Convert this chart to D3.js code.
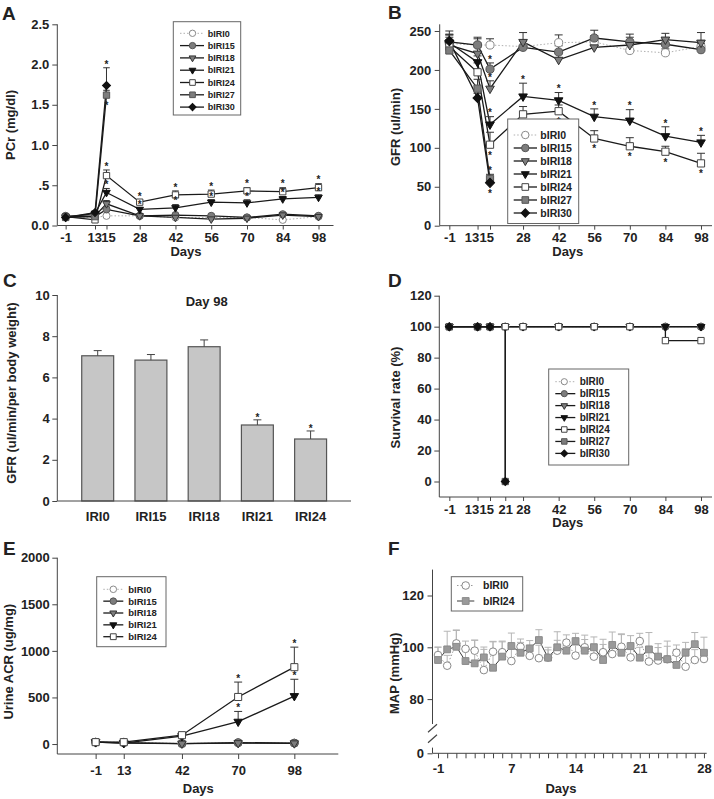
<!DOCTYPE html>
<html><head><meta charset="utf-8">
<script src="https://cdn.jsdelivr.net/npm/d3@7"></script>
<style>
body{margin:0;background:#fff;}
svg text{font-family:"Liberation Sans",Arial,Helvetica,sans-serif;font-weight:bold;fill:#222;}
</style></head><body>
<svg id="fig" width="714" height="799" xmlns="http://www.w3.org/2000/svg"></svg>
<script>
// ================= DATA =================
const groups = ["bIRI0","bIRI15","bIRI18","bIRI21","bIRI24","bIRI27","bIRI30"];

// Panel A: plasma creatinine (mg/dl)
const daysA = [-1,13,15,28,42,56,70,84,98];
const pcrTicks = [0,0.5,1,1.5,2,2.5];
const pcrTickLabels = ["0.0",".5","1.0","1.5","2.0","2.5"];
const pcr_bIRI0  = [0.11,0.10,0.12,0.12,0.10,0.10,0.10,0.07,0.11];
const pcr_bIRI15 = [0.12,0.11,0.20,0.12,0.13,0.12,0.10,0.14,0.12];
const pcr_bIRI18 = [0.11,0.12,0.27,0.12,0.10,0.08,0.09,0.13,0.11];
const pcr_bIRI21 = [0.10,0.15,0.41,0.20,0.22,0.29,0.28,0.33,0.35];
const pcr_bIRI24 = [0.11,0.07,0.62,0.29,0.38,0.39,0.43,0.42,0.47];
const pcr_bIRI27 = [0.10,0.11,1.62];
const pcr_bIRI30 = [0.10,0.16,1.74];
const pcrErr_bIRI0  = [0.01,0.01,0.02,0.01,0.01,0.01,0.01,0.01,0.01];
const pcrErr_bIRI15 = [0.01,0.01,0.03,0.01,0.02,0.02,0.01,0.02,0.01];
const pcrErr_bIRI18 = [0.01,0.01,0.04,0.01,0.01,0.01,0.01,0.02,0.01];
const pcrErr_bIRI21 = [0.01,0.02,0.05,0.02,0.04,0.03,0.04,0.03,0.03];
const pcrErr_bIRI24 = [0.01,0.01,0.07,0.03,0.05,0.05,0.04,0.05,0.05];
const pcrErr_bIRI27 = [0.01,0.02,0.06];
const pcrErr_bIRI30 = [0.01,0.02,0.22];

// Panel B: GFR (ul/min)
const gfrTicks = [0,50,100,150,200,250];
const gfr_bIRI0  = [234,232,232,230,235,236,225,222,230];
const gfr_bIRI15 = [236,232,201,229,223,241,236,233,226];
const gfr_bIRI18 = [232,221,176,236,213,229,232,239,235];
const gfr_bIRI21 = [235,210,130,166,161,140,135,115,107];
const gfr_bIRI24 = [230,197,104,143,147,112,102,95,80];
const gfr_bIRI27 = [225,176,60];
const gfr_bIRI30 = [237,164,55];
const gfrErr_bIRI0  = [8,8,8,8,10,8,6,5,8];
const gfrErr_bIRI15 = [10,10,8,8,8,10,10,8,8];
const gfrErr_bIRI18 = [18,10,10,12,8,8,10,8,13];
const gfrErr_bIRI21 = [10,8,10,17,10,10,14,12,9];
const gfrErr_bIRI24 = [8,12,16,10,8,10,11,7,13];
const gfrErr_bIRI27 = [8,12,6];
const gfrErr_bIRI30 = [8,6,4];

// Panel C: GFR per body weight at day 98
const catsC = ["IRI0","IRI15","IRI18","IRI21","IRI24"];
const gfrBW = [7.05,6.84,7.49,3.69,3.01];
const gfrBWErr = [0.25,0.27,0.33,0.25,0.39];
const gfrBWStar = [false,false,false,true,true];
const ticksC = [0,2,4,6,8,10];

// Panel D: survival rate (%)
const daysD = [-1,13,15,21,28,42,56,70,84,98];
const survTicks = [0,20,40,60,80,100,120];
const surv_bIRI0  = [100,100,100,100,100,100,100,100,100,100];
const surv_bIRI15 = [100,100,100,100,100,100,100,100,100,100];
const surv_bIRI18 = [100,100,100,100,100,100,100,100,100,100];
const surv_bIRI21 = [100,100,100,100,100,100,100,100,100,100];
const surv_bIRI24 = [100,100,100,100,100,100,100,100,91,91];
const daysDshort = [-1,13,15,21];
const surv_bIRI27 = [100,100,100,0];
const surv_bIRI30 = [100,100,100,0];

// Panel E: urine ACR (ug/mg)
const daysE = [-1,13,42,70,98];
const acrTicks = [0,500,1000,1500,2000];
const acr_bIRI0  = [20,20,5,15,10];
const acr_bIRI15 = [20,15,5,15,10];
const acr_bIRI18 = [20,10,5,10,8];
const acr_bIRI21 = [20,10,85,240,515];
const acr_bIRI24 = [20,20,95,505,825];
const acrErr_bIRI21 = [5,5,10,110,180];
const acrErr_bIRI24 = [5,5,10,160,215];

// Panel F: MAP (mmHg), daily from day -1 to 28
const daysF = d3.range(-1,29);
const mapTicks = [0,80,100,120];
const mapXLabels = [-1,7,14,21,28];
const map_bIRI0  = [97,92.9,101.5,99.4,98.7,91.2,98.3,98.1,94.7,100.2,96.7,95.8,96,98.7,101.8,96.8,100,96.4,98.1,97.4,100.2,96.1,102.4,94.5,94.9,95.4,97.9,92.5,95.1,95.5];
const map_bIRI24 = [95.1,99.2,100.2,94.7,93.8,96.1,92.1,96.4,100.5,97.9,99.6,102.8,96,100,98.7,102.4,98.7,100,95.1,100.9,97.9,100.5,96,99.2,96.4,95.4,93.2,97.9,101.2,97.9];
const mapErr_bIRI0  = [3,4,5,3,4,8,4,4,6,3,3,5,3,4,3,4,3,5,3,4,5,3,3,5,5,7,3,7,4,3];
const mapErr_bIRI24 = [5,7,6.5,4,9,4,10,6,5,4,3,4,4,6,4,3,6,4,8,5,7,4,4,6.5,5,5,6,4,4.5,6];

// ================= STYLE =================
const FONT = '"Liberation Sans", Arial, Helvetica, sans-serif';
const INK = "#222", AXIS = "#444";
const STY = {
  bIRI0:  {shape:"circle",  fill:"#fff",    stroke:"#8a8a8a", line:"#b0b0b0", dash:"1.5,2", lw:1},
  bIRI15: {shape:"circle",  fill:"#7d7d7d", stroke:"#555",    line:"#1a1a1a", lw:1.3},
  bIRI18: {shape:"tri",     fill:"#7d7d7d", stroke:"#333",    line:"#1a1a1a", lw:1.3},
  bIRI21: {shape:"tri",     fill:"#111",    stroke:"#111",    line:"#1a1a1a", lw:1.3},
  bIRI24: {shape:"square",  fill:"#fff",    stroke:"#444",    line:"#1a1a1a", lw:1.3},
  bIRI27: {shape:"square",  fill:"#7d7d7d", stroke:"#555",    line:"#1a1a1a", lw:1.3},
  bIRI30: {shape:"diamond", fill:"#111",    stroke:"#111",    line:"#1a1a1a", lw:1.3}
};
const svg = d3.select("#fig");

function symPath(shape, size){
  const t = {circle:d3.symbolCircle, square:d3.symbolSquare, diamond:d3.symbolSquare, tri:d3.symbolTriangle}[shape];
  return d3.symbol(t, size)();
}
function rot(shape){ return shape==="tri" ? " rotate(180)" : shape==="diamond" ? " rotate(45)" : ""; }
function marker(g, st, x, y, size, sw){
  const sz = st.shape==="diamond" ? size*0.8 : st.shape==="tri" ? size*0.62 : size;
  g.append("path").attr("d", symPath(st.shape, sz))
   .attr("transform", `translate(${x},${y})${rot(st.shape)}`)
   .attr("fill", st.fill).attr("stroke", st.stroke).attr("stroke-width", sw||1);
}

function axes(g, x, y, fr, o){
  const gx = g.append("g").attr("transform",`translate(0,${fr.b})`)
    .call(d3.axisBottom(x).tickValues(o.xt).tickSize(o.xts).tickPadding(o.xp).tickFormat(o.xf||(d=>d)));
  const gy = g.append("g").attr("transform",`translate(${fr.l},0)`)
    .call(d3.axisLeft(y).tickValues(o.yt).tickSize(o.yts).tickPadding(o.yp).tickFormat(o.yf||(d=>d)));
  [gx,gy].forEach(a=>{
    a.select(".domain").remove();
    a.attr("font-family",FONT).attr("font-size",13).attr("font-weight","bold");
    a.selectAll("line").attr("stroke",AXIS);
    a.selectAll("text").attr("fill",INK);
  });
  if(o.shift) gx.selectAll(".tick text").attr("dx", d => o.shift[d] || 0);
  g.append("line").attr("x1",fr.l).attr("x2",fr.r).attr("y1",fr.b).attr("y2",fr.b).attr("stroke",AXIS);
  if(!o.noY) g.append("line").attr("x1",fr.l).attr("x2",fr.l).attr("y1",fr.t).attr("y2",fr.b).attr("stroke",AXIS);
  return {gx,gy};
}
function ytitle(g, txt, x, y){
  g.append("text").attr("transform",`translate(${x},${y}) rotate(-90)`).attr("text-anchor","middle")
   .attr("font-size",13).text(txt);
}
function xtitle(g, txt, x, y){
  g.append("text").attr("x",x).attr("y",y).attr("text-anchor","middle").attr("font-size",13).text(txt);
}
function star(g, x, yc){
  g.append("text").attr("x",x).attr("y",yc+5.8).attr("text-anchor","middle").attr("font-size",10).text("*");
}

function series(g, x, y, list, o){
  const line = d3.line().x(d=>x(d[0])).y(d=>y(d[1]));
  if(o.curve) line.curve(o.curve);
  list.forEach(s=>{
    const st = STY[s.name];
    g.append("path").datum(d3.zip(s.days, s.vals)).attr("d", line).attr("fill","none")
     .attr("stroke", st.line).attr("stroke-width", st.lw).attr("stroke-dasharray", st.dash||null);
  });
  list.forEach(s=>{
    if(!s.errs) return;
    s.days.forEach((d,i)=>{
      const e = s.errs[i]; if(!e) return;
      const x0 = x(d), y0 = y(s.vals[i]), y1 = y(s.vals[i]+e);
      g.append("line").attr("x1",x0).attr("x2",x0).attr("y1",y0).attr("y2",y1).attr("stroke",o.errColor||"#333").attr("stroke-width",1);
      g.append("line").attr("x1",x0-o.cap).attr("x2",x0+o.cap).attr("y1",y1).attr("y2",y1).attr("stroke",o.errColor||"#333").attr("stroke-width",1);
    });
  });
  list.forEach(s=>{
    const st = STY[s.name];
    s.days.forEach((d,i)=> marker(g, st, x(d), y(s.vals[i]), o.size, o.msw));
  });
  list.forEach(s=>{
    if(!s.stars) return;
    (s.stars.up||[]).forEach(d=>{ const i=s.days.indexOf(d); star(g, x(d), y(s.vals[i]+(s.errs?s.errs[i]:0)) - 6); });
    (s.stars.down||[]).forEach(d=>{ const i=s.days.indexOf(d); star(g, x(d), y(s.vals[i]) + 8); });
  });
}

function legend(g, names, o){
  g.append("rect").attr("x",o.x0).attr("y",o.y0).attr("width",o.x1-o.x0).attr("height",o.y1-o.y0)
   .attr("fill","#fff").attr("stroke","#666").attr("stroke-width",1);
  names.forEach((n,i)=>{
    const st = STY[n];
    const yy = o.first + i*o.dy;
    g.append("line").attr("x1",o.l0).attr("x2",o.l1).attr("y1",yy).attr("y2",yy)
     .attr("stroke",st.line).attr("stroke-width",st.lw).attr("stroke-dasharray",st.dash||null);
    marker(g, st, o.sx, yy, o.size, 1);
    g.append("text").attr("x",o.tx).attr("y",yy+o.fs*0.36).attr("font-size",o.fs).text(n);
  });
}

function panelLabel(t,x,y){ svg.append("text").attr("x",x).attr("y",y).attr("font-size",19).text(t); }

// ================= PANEL A =================
{
  const g = svg.append("g");
  const fr = {l:57.3, r:333.5, t:24.3, b:225.5};
  const base = d3.scaleLinear().domain([-4.26,103.87]).range([fr.l, fr.r]);
  const x = d3.scaleLinear().domain([-4.26,-1,13,15,103.87]).range([-4.26,-1,10.5,15,103.87].map(base));
  const y = d3.scaleLinear().domain([0,2.5]).range([fr.b, fr.t]);
  axes(g, x, y, fr, {xt:daysA, xts:4, xp:3, yt:pcrTicks, yts:5, yp:3, yf:(d,i)=>pcrTickLabels[i], shift:{13:-0.8,15:1.6}});
  const d3d = daysA.slice(0,3);
  series(g, x, y, [
    {name:"bIRI0",  days:daysA, vals:pcr_bIRI0,  errs:pcrErr_bIRI0},
    {name:"bIRI15", days:daysA, vals:pcr_bIRI15, errs:pcrErr_bIRI15},
    {name:"bIRI18", days:daysA, vals:pcr_bIRI18, errs:pcrErr_bIRI18},
    {name:"bIRI21", days:daysA, vals:pcr_bIRI21, errs:pcrErr_bIRI21, stars:{up:[15,28,42,56,70,84,98]}},
    {name:"bIRI24", days:daysA, vals:pcr_bIRI24, errs:pcrErr_bIRI24, stars:{up:[15,28,42,56,70,84,98]}},
    {name:"bIRI27", days:d3d,   vals:pcr_bIRI27, errs:pcrErr_bIRI27, stars:{down:[15]}},
    {name:"bIRI30", days:d3d,   vals:pcr_bIRI30, errs:pcrErr_bIRI30, stars:{up:[15]}}
  ], {size:40, cap:3.3});
  legend(g, groups, {x0:173.3,x1:240.7,y0:21.7,y1:115, first:33.3, dy:12.3, l0:180, l1:204, sx:192.5, tx:207.7, fs:9, size:32});
  ytitle(g, "PCr (mg/dl)", 14.5, 125);
  xtitle(g, "Days", 186, 256);
}

// ================= PANEL B =================
{
  const g = svg.append("g");
  const fr = {l:439.7, r:712, t:24.3, b:225.7};
  const base = d3.scaleLinear().domain([-4.79,102.33]).range([fr.l, fr.r]);
  const x = d3.scaleLinear().domain([-4.79,-1,13,15,102.33]).range([-4.79,-1,10.1,15,102.33].map(base));
  const y = d3.scaleLinear().domain([0,258.6]).range([fr.b, fr.t]);
  axes(g, x, y, fr, {xt:daysA, xts:4, xp:3, yt:gfrTicks, yts:5, yp:3.5, shift:{13:-6,15:-3.7}});
  const d3d = daysA.slice(0,3);
  series(g, x, y, [
    {name:"bIRI0",  days:daysA, vals:gfr_bIRI0,  errs:gfrErr_bIRI0},
    {name:"bIRI15", days:daysA, vals:gfr_bIRI15, errs:gfrErr_bIRI15, stars:{up:[15]}},
    {name:"bIRI18", days:daysA, vals:gfr_bIRI18, errs:gfrErr_bIRI18, stars:{up:[15]}},
    {name:"bIRI21", days:daysA, vals:gfr_bIRI21, errs:gfrErr_bIRI21, stars:{up:[15,28,42,56,70,84,98]}},
    {name:"bIRI24", days:daysA, vals:gfr_bIRI24, errs:gfrErr_bIRI24, stars:{down:[15,28,42,56,70,84,98]}},
    {name:"bIRI27", days:d3d,   vals:gfr_bIRI27, errs:gfrErr_bIRI27, stars:{up:[15]}},
    {name:"bIRI30", days:d3d,   vals:gfr_bIRI30, errs:gfrErr_bIRI30, stars:{down:[15]}}
  ], {size:52, cap:4});
  legend(g, groups, {x0:507.7,x1:578.7,y0:119,y1:223.5, first:135, dy:13, l0:513.7, l1:537, sx:525.3, tx:540.3, fs:10.5, size:44});
  ytitle(g, "GFR (ul/min)", 399.5, 127);
  xtitle(g, "Days", 567.8, 256);
}

// ================= PANEL C =================
{
  const g = svg.append("g");
  const fr = {l:57.3, r:351, t:295, b:501};
  const x = d3.scaleBand().domain(catsC).range([fr.l, fr.r]).paddingInner(0.4).paddingOuter(0.459);
  const y = d3.scaleLinear().domain([0,10]).range([fr.b, fr.t]);
  g.selectAll("rect.bar").data(catsC).join("rect").attr("class","bar")
   .attr("x", d=>x(d)).attr("width", x.bandwidth())
   .attr("y", (d,i)=>y(gfrBW[i])).attr("height", (d,i)=>y(0)-y(gfrBW[i]))
   .attr("fill","#c6c6c6").attr("stroke","#555").attr("stroke-width",1.2);
  catsC.forEach((c,i)=>{
    const cx = x(c)+x.bandwidth()/2, y0 = y(gfrBW[i]), y1 = y(gfrBW[i]+gfrBWErr[i]);
    g.append("line").attr("x1",cx).attr("x2",cx).attr("y1",y0).attr("y2",y1).attr("stroke","#444");
    g.append("line").attr("x1",cx-4).attr("x2",cx+4).attr("y1",y1).attr("y2",y1).attr("stroke","#444");
    if(gfrBWStar[i]) star(g, cx, y1-5);
  });
  axes(g, x, y, fr, {xt:catsC, xts:0, xp:11, yt:ticksC, yts:5, yp:2.5});
  g.append("text").attr("x",206.7).attr("y",306).attr("text-anchor","middle").attr("font-size",13).text("Day 98");
  ytitle(g, "GFR (ul/min/per body weight)", 15.5, 393);
}

// ================= PANEL D =================
{
  const g = svg.append("g");
  const fr = {l:439.3, r:712, t:295.7, b:497};
  const base = d3.scaleLinear().domain([-4.79,102.33]).range([439.7, 712]);
  const x = d3.scaleLinear().domain([-4.79,-1,13,15,102.33]).range([-4.79,-1,10.1,15,102.33].map(base));
  const y = d3.scaleLinear().domain([-10,120]).range([fr.b, fr.t]);
  axes(g, x, y, fr, {xt:daysD, xts:4, xp:3.5, yt:survTicks, yts:5, yp:2.5, shift:{13:-6,15:-3.7}});
  series(g, x, y, [
    {name:"bIRI0",  days:daysD, vals:surv_bIRI0},
    {name:"bIRI15", days:daysD, vals:surv_bIRI15},
    {name:"bIRI18", days:daysD, vals:surv_bIRI18},
    {name:"bIRI21", days:daysD, vals:surv_bIRI21},
    {name:"bIRI24", days:daysD, vals:surv_bIRI24},
    {name:"bIRI27", days:daysDshort, vals:surv_bIRI27},
    {name:"bIRI30", days:daysDshort, vals:surv_bIRI30}
  ], {size:40, curve:d3.curveStepAfter});
  legend(g, groups, {x0:548.7,x1:628.7,y0:369,y1:465, first:381.7, dy:11.95, l0:555.3, l1:575.3, sx:564.3, tx:579.7, fs:10, size:30});
  ytitle(g, "Survival rate (%)", 400, 397.5);
  xtitle(g, "Days", 567.8, 527);
}

// ================= PANEL E =================
{
  const g = svg.append("g");
  const fr = {l:57.3, r:338.3, t:557.7, b:754};
  const x = d3.scaleLinear().domain([-20.1,119.9]).range([fr.l, fr.r]);
  const y = d3.scaleLinear().domain([-107,2000]).range([fr.b, fr.t]);
  axes(g, x, y, fr, {xt:daysE, xts:5, xp:6.5, yt:acrTicks, yts:5, yp:2.5});
  series(g, x, y, [
    {name:"bIRI0",  days:daysE, vals:acr_bIRI0},
    {name:"bIRI15", days:daysE, vals:acr_bIRI15},
    {name:"bIRI18", days:daysE, vals:acr_bIRI18},
    {name:"bIRI21", days:daysE, vals:acr_bIRI21, errs:acrErr_bIRI21, stars:{up:[70,98]}},
    {name:"bIRI24", days:daysE, vals:acr_bIRI24, errs:acrErr_bIRI24, stars:{up:[70,98]}}
  ], {size:50, cap:4});
  legend(g, groups.slice(0,5), {x0:96.7,x1:166,y0:576.7,y1:646.7, first:589.3, dy:11.85, l0:103.3, l1:123.3, sx:113.3, tx:128.3, fs:9.5, size:34});
  ytitle(g, "Urine ACR (ug/mg)", 13, 661.7);
  xtitle(g, "Days", 198.3, 793);
}

// ================= PANEL F =================
{
  const g = svg.append("g");
  const fr = {l:432.5, r:706.7, t:569.6, b:753.3};
  const x = d3.scaleLinear().domain([-1.6,28.3]).range([fr.l, fr.r]);
  const y = d3.scaleLinear().domain([0,70,130]).range([fr.b, 725, fr.t]);
  axes(g, x, y, fr, {xt:daysF, xts:5, xp:5, xf:d=>mapXLabels.includes(d)?d:"", yt:mapTicks, yts:5, yp:3.5, noY:true});
  // broken y axis
  g.append("line").attr("x1",fr.l).attr("x2",fr.l).attr("y1",fr.t).attr("y2",y(70)-1).attr("stroke",AXIS);
  g.append("line").attr("x1",fr.l).attr("x2",fr.l).attr("y1",y(14)).attr("y2",fr.b).attr("stroke",AXIS);
  [y(62), y(36)].forEach(yy=>{
    g.append("line").attr("x1",fr.l-4.5).attr("x2",fr.l+4.5).attr("y1",yy+4).attr("y2",yy-4).attr("stroke",AXIS).attr("stroke-width",1.2);
  });
  const saved0 = Object.assign({}, STY.bIRI0), saved24 = Object.assign({}, STY.bIRI24);
  Object.assign(STY.bIRI0,  {fill:"#fff", stroke:"#8a8a8a", line:"#9a9a9a", dash:"1.5,2", lw:1});
  Object.assign(STY.bIRI24, {fill:"#9a9a9a", stroke:"#8a8a8a", line:"#3a3a3a", lw:1});
  series(g, x, y, [
    {name:"bIRI0",  days:daysF, vals:map_bIRI0,  errs:mapErr_bIRI0},
    {name:"bIRI24", days:daysF, vals:map_bIRI24, errs:mapErr_bIRI24}
  ], {size:46, cap:3.5, errColor:"#b5b5b5"});
  legend(g, ["bIRI0","bIRI24"], {x0:451.3,x1:522.7,y0:576.7,y1:611, first:585.5, dy:15.5, l0:457, l1:474.3, sx:465.7, tx:483, fs:10.5, size:46});
  Object.assign(STY.bIRI0, saved0); Object.assign(STY.bIRI24, saved24);
  ytitle(g, "MAP (mmHg)", 398.5, 673.3);
  xtitle(g, "Days", 561, 793);
}

panelLabel("A",2,20); panelLabel("B",388,19); panelLabel("C",3,287);
panelLabel("D",388,287); panelLabel("E",3,555); panelLabel("F",388,555);
</script>
</body></html>
